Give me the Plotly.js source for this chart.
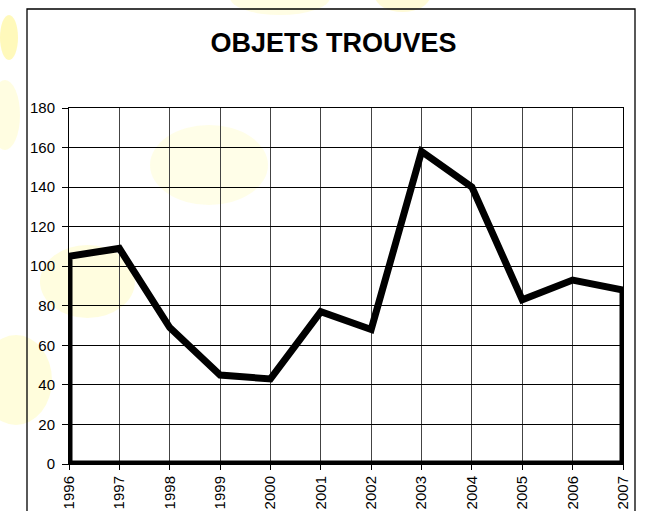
<!DOCTYPE html>
<html>
<head>
<meta charset="utf-8">
<script src="https://cdn.plot.ly/plotly-3.0.1.min.js"></script>
<style>
html,body{margin:0;padding:0;background:#fff;}
#chart{width:645px;height:511px;}
</style>
</head>
<body>
<div id="chart"></div>
<script>
var years = [1996, 1997, 1998, 1999, 2000, 2001, 2002, 2003, 2004, 2005, 2006, 2007];
var objets = [105, 109, 69, 45, 43, 77, 68, 158, 140, 83, 93, 88];
var yTicks = [0, 20, 40, 60, 80, 100, 120, 140, 160, 180];
var chartTitle = "OBJETS TROUVES";

// closed outline down to the baseline at both ends, as in the original area-style chart
var first = years[0], last = years[years.length - 1];
var xs = [first].concat(years, [last, first]);
var ys = [0].concat(objets, [0, 0]);

var trace = {
  x: xs,
  y: ys,
  type: 'scatter',
  mode: 'lines',
  line: {color: '#000', width: 7},
  cliponaxis: false,
  hoverinfo: 'skip',
  showlegend: false
};

var W = 554, H = 356, L = 69, T = 108;
function px(x){ return (x - L) / W; }
function py(y){ return (T + H - y) / H; }

var blobs = [
  [0, 15, 18, 60, 'rgba(255,238,60,0.35)'],
  [-10, 80, 20, 150, 'rgba(255,245,120,0.22)'],
  [150, 125, 268, 205, 'rgba(255,250,150,0.22)'],
  [40, 245, 135, 318, 'rgba(255,250,150,0.3)'],
  [-20, 335, 52, 425, 'rgba(255,250,140,0.3)'],
  [230, -20, 330, 15, 'rgba(255,245,130,0.22)'],
  [375, -20, 430, 12, 'rgba(255,240,100,0.25)']
];
var shapes = blobs.map(function(b){
  return {type:'circle', xref:'paper', yref:'paper', layer:'below',
    x0: px(b[0]), x1: px(b[2]), y0: py(b[3]), y1: py(b[1]),
    fillcolor: b[4], line:{width:0}};
});
shapes.push({type:'rect', xref:'paper', yref:'paper', layer:'above',
  x0: px(27), x1: px(635), y0: py(540), y1: py(9),
  line:{color:'#000', width:1.3}, fillcolor:'rgba(0,0,0,0)'});

var layout = {
  width: 645, height: 511,
  margin: {l: L, r: 645 - L - W, t: T, b: 511 - T - H, pad: 0},
  paper_bgcolor: '#fff',
  plot_bgcolor: 'rgba(0,0,0,0)',
  font: {family: 'Arial, "Liberation Sans", sans-serif', color: '#000', size: 15},
  title: {
    text: '<b>' + chartTitle + '</b>',
    font: {size: 27, family: 'Arial, "Liberation Sans", sans-serif', color: '#000'},
    xref: 'container', yref: 'container', x: 0.517, y: 1 - 43/511,
    xanchor: 'center', yanchor: 'middle'
  },
  xaxis: {
    range: [first, last],
    tickmode: 'array', tickvals: years, ticktext: years.map(String),
    tickangle: -90,
    ticks: 'outside', ticklen: 5, tickcolor: '#000', tickwidth: 1,
    showgrid: true, gridcolor: '#444', gridwidth: 1,
    showline: true, linecolor: '#000', linewidth: 1, mirror: true,
    zeroline: false, fixedrange: true,
    tickfont: {size: 15}
  },
  yaxis: {
    range: [0, 180],
    tickmode: 'array', tickvals: yTicks,
    ticks: 'outside', ticklen: 6, tickcolor: '#000', tickwidth: 1,
    ticklabelstandoff: 4,
    showgrid: true, gridcolor: '#000', gridwidth: 1,
    showline: true, linecolor: '#000', linewidth: 1, mirror: true,
    zeroline: false, fixedrange: true,
    tickfont: {size: 15}
  },
  shapes: shapes
};

Plotly.newPlot('chart', [trace], layout, {staticPlot: true, displayModeBar: false});
</script>
</body>
</html>
